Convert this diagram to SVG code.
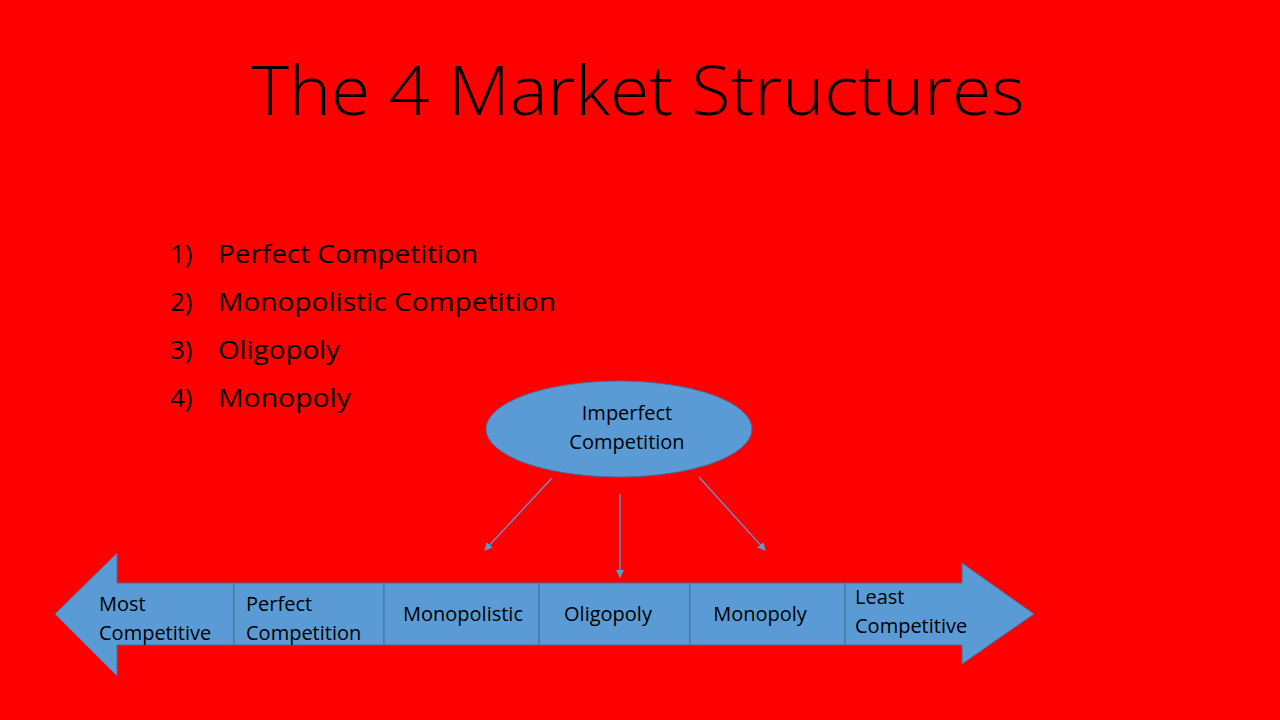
<svg xmlns="http://www.w3.org/2000/svg" width="1280" height="720" viewBox="0 0 1280 720">
<style>
text{font-family:"Open Sans","Liberation Sans",sans-serif;fill:#000}
.s{font-size:20px}
.l{font-size:26px}
.b{fill:#5b9bd5;stroke:#41719c;stroke-width:1}
.c{stroke:#5b9bd5;stroke-width:1.3;fill:none}
</style>
<defs><marker id="a" markerWidth="8" markerHeight="8" refX="7" refY="4" orient="auto" markerUnits="userSpaceOnUse"><path d="M0,0 L8,4 L0,8 z" fill="#5b9bd5"/></marker></defs>
<rect width="1280" height="720" fill="#ff0000"/>
<text x="638" y="115" text-anchor="middle" style="font-size:68px;font-weight:300" textLength="773" lengthAdjust="spacingAndGlyphs">The 4 Market Structures</text>
<g id="list" class="l">
<text x="170" y="263">1)</text><text x="218" y="263" textLength="260" lengthAdjust="spacingAndGlyphs">Perfect Competition</text>
<text x="170" y="311">2)</text><text x="218" y="311" textLength="338" lengthAdjust="spacingAndGlyphs">Monopolistic Competition</text>
<text x="170" y="359">3)</text><text x="218" y="359" textLength="122" lengthAdjust="spacingAndGlyphs">Oligopoly</text>
<text x="170" y="407">4)</text><text x="218" y="407" textLength="133" lengthAdjust="spacingAndGlyphs">Monopoly</text>
</g>
<g id="imperfect"><ellipse class="b" cx="619" cy="429" rx="133" ry="48"/>
<text class="s" x="627" y="420" text-anchor="middle">Imperfect</text><text class="s" x="627" y="449" text-anchor="middle">Competition</text></g>
<g id="connectors">
<line class="c" x1="552" y1="478" x2="485" y2="550" marker-end="url(#a)"/>
<line class="c" x1="620" y1="494" x2="620" y2="577" marker-end="url(#a)"/>
<line class="c" x1="699" y1="477" x2="765" y2="550" marker-end="url(#a)"/>
</g>
<g id="left"><path class="b" d="M55,614 L117,553 L117,583 L234,583 L234,645 L117,645 L117,676 Z"/>
<text class="s" x="99" y="611">Most</text><text class="s" x="99" y="640">Competitive</text></g>
<g id="perfect"><rect class="b" x="234" y="583" width="150" height="62"/>
<text class="s" x="246" y="611">Perfect</text><text class="s" x="246" y="640">Competition</text></g>
<g id="monopolistic"><rect class="b" x="384" y="583" width="155" height="62"/>
<text class="s" x="463" y="621" text-anchor="middle">Monopolistic</text></g>
<g id="oligopoly"><rect class="b" x="539" y="583" width="151" height="62"/>
<text class="s" x="608" y="621" text-anchor="middle">Oligopoly</text></g>
<g id="monopoly"><rect class="b" x="690" y="583" width="155" height="62"/>
<text class="s" x="760" y="621" text-anchor="middle">Monopoly</text></g>
<g id="right"><path class="b" d="M845,583 L962,583 L962,563 L1034,614 L962,664 L962,645 L845,645 Z"/>
<text class="s" x="855" y="604">Least</text><text class="s" x="855" y="633">Competitive</text></g>
</svg>
